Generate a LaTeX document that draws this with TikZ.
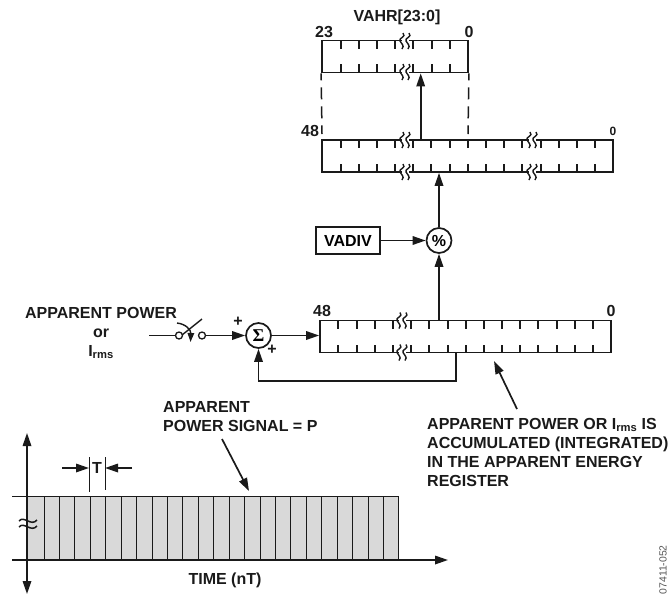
\documentclass[tikz,border=0pt]{standalone}
\usepackage{amsmath}
\usepackage{fontspec}
\setmainfont{Liberation Sans}
\newfontfamily\sigfont{Liberation Serif}
\usetikzlibrary{arrows.meta,calc,positioning}
\definecolor{Ink}{HTML}{1A1A1A}
\definecolor{BarFill}{HTML}{D9D9D9}
\definecolor{TagGrey}{HTML}{555555}
\tikzset{regbox/.style={draw=Ink,line width=1.7pt,inner sep=0pt,minimum height=32pt},opbox/.style={draw=Ink,line width=1.7pt,inner sep=0pt,font=\lbl\bfseries},opcirc/.style={circle,draw=Ink,line width=1.7pt,minimum size=25pt,inner sep=0pt,font=\lbl\bfseries},contact/.style={circle,draw=Ink,line width=1.3pt,minimum size=7pt,inner sep=0pt},flow/.style={-{Triangle[length=13pt,width=8.5pt]},line width=1.7pt,draw=Ink},tickline/.style={draw=Ink,line width=1.4pt},lbl/.style={font=\lbl\bfseries,inner sep=0pt,text=Ink},lblleft/.style={lbl,align=left,anchor=west},lblmid/.style={lbl,align=center}}
\newcommand{\lbl}{\fontsize{16}{19}\selectfont}
\newcommand{\regbreak}[2]{\fill[white] (#1-3,#2-2.5) rectangle (#1+4,#2+2.5);
  \foreach \dx in {-3,3}{\draw[tickline] (#1+\dx+1,#2-8) .. controls (#1+\dx+5,#2-4) and (#1+\dx-4,#2-3) .. (#1+\dx-2,#2) .. controls (#1+\dx-1,#2+3) and (#1+\dx+3,#2+4) .. (#1+\dx,#2+8);}}
\newcommand{\regticks}[3]{\foreach \x in {#1}{\draw[tickline] (\x,#2)--+(0,8);\draw[tickline] (\x,#3)--+(0,-8);}}
\begin{document}
\begin{tikzpicture}[x=1pt,y=-1pt]
  \useasboundingbox (0,0) rectangle (668,595);
  \node[regbox,minimum width=146pt](vahr) at (395,56.5){};
  \node[regbox,minimum width=291pt](midreg) at (467.5,156){};
  \node[regbox,minimum width=291pt](accreg) at (465.5,336.5){};
  \node[opbox,minimum width=64pt,minimum height=27pt](vadiv) at (348,240.5){VADIV};
  \node[opcirc](divop) at (439,240.5){\%};
  \node[opcirc](sumop) at (258.5,335.5){\sigfont\fontsize{18}{18}\selectfont\bfseries Σ};
  \node[contact](swa) at (179,335.5){};
  \node[contact](swb) at (202,335.5){};
  \coordinate (inp) at (149,335.5);
  \coordinate (fbk) at (456,381);
  \coordinate (midup) at (420.7,140.5);
  \coordinate (noteend) at (517,409);
  \coordinate (notetip) at (494,361);
  \coordinate (sigend) at (222,439);
  \coordinate (sigtip) at (249,491);
  \coordinate (dashl) at (322,134);
  \coordinate (dashr) at (468,134);
  \regticks{341,359,377,395,413,432,450}{41}{72}
  \regticks{341,359,377,395,413,431,450,468,486,504,522,541,559,577,595}{140}{172}
  \regticks{338,357,375,393,411,429,448,466,484,502,520,538,557,575,593}{320.5}{352.5}
  \regbreak{405}{41}\regbreak{405}{72}
  \regbreak{405}{140}\regbreak{405}{172}
  \regbreak{532}{140}\regbreak{532}{172}
  \regbreak{402}{320.5}\regbreak{402}{352.5}
  \draw[flow](midup)--(midup|-vahr.south);
  \draw[flow](divop)--(divop|-midreg.south);
  \draw[flow](divop|-accreg.north)--(divop);
  \draw[flow](vadiv)--(divop);
  \draw[flow](sumop)--(sumop-|accreg.west);
  \draw[flow](swb)--(sumop);
  \draw[line width=1.7pt,draw=Ink](inp)--(swa);
  \draw[flow](fbk|-accreg.south)--(fbk)-|(sumop);
  \draw[line width=1.5pt,draw=Ink,dash pattern=on 7pt off 7pt on 12pt off 7pt on 12pt off 7pt on 12pt off 7pt](vahr.south west)--(dashl);
  \draw[line width=1.5pt,draw=Ink,dash pattern=on 7pt off 7pt on 12pt off 7pt on 12pt off 7pt on 12pt off 7pt](vahr.south east)--(dashr);
  \draw[line width=1.4pt,draw=Ink](182,335)--(202,319);
  \draw[-{Triangle[length=9pt,width=6.5pt]},line width=1.4pt,draw=Ink](177,323) .. controls (186,324) and (191,330) .. (190.5,342);
  \node[lblmid](vahrtxt) at (397,17){VAHR[23:0]};
  \node[lblmid](vahrhi) at (324,32){23};
  \node[lblmid](vahrlo) at (469,32){0};
  \node[lblmid](midhi) at (310,131){48};
  \node[lblmid,font=\fontsize{12}{13}\selectfont\bfseries](midlo) at (613,131){0};
  \node[lblmid](acchi) at (322,311){48};
  \node[lblmid](acclo) at (611,311){0};
  \node[lblmid](plusa) at (238,322){+};
  \node[lblmid](plusb) at (272,350){+};
  \node[lblmid](inptxt) at (101,333){APPARENT POWER\\or\\I\textsubscript{rms}};
  \node[lblleft](notetxt) at (427,452){APPARENT POWER OR I\textsubscript{rms} IS\\ACCUMULATED (INTEGRATED)\\IN THE APPARENT ENERGY\\REGISTER};
  \draw[flow](noteend)--(notetip);
  \fill[BarFill](27,496) rectangle (399,560);
  \foreach \i in {0,...,23}{\draw[draw=Ink,line width=1pt] ({int(44+15.43*\i)+.5},496)--({int(44+15.43*\i)+.5},560);}
  \draw[draw=Ink,line width=1pt](12,496.5)--(399,496.5);
  \node[lblmid,anchor=west,align=left](sigtxt) at (163,416.5){APPARENT\\POWER SIGNAL = P};
  \draw[flow](sigend)--(sigtip);
  \coordinate (axtop) at (27,433);
  \coordinate (axbot) at (27,594);
  \coordinate (axrgt) at (448,560);
  \coordinate (axlft) at (12,560);
  \draw[flow,{Triangle[length=13pt,width=8.5pt]}-{Triangle[length=13pt,width=8.5pt]}](axtop)--(axbot);
  \draw[flow](axlft)--(axrgt);
  \foreach \dy in {-3,3}{\draw[line width=1.5pt,draw=Ink] (19,524+\dy) .. controls (24,518+\dy) and (31,530+\dy) .. (37,523+\dy);}
  \coordinate (tl) at (89,457);
  \coordinate (tr) at (105,457);
  \draw[draw=Ink,line width=1pt](tl)--+(0,35);
  \draw[draw=Ink,line width=1pt](tr)--+(0,33);
  \coordinate (tla) at (62,468);
  \coordinate (tra) at (132,468);
  \draw[flow](tla)--(tla-|tl);
  \draw[flow](tra)--(tra-|tr);
  \node[lblmid](ttxt) at (97,468){T};
  \node[lblmid](timetxt) at (225,580){TIME (nT)};
  \node[font=\fontsize{10.4}{11}\selectfont,text=TagGrey,rotate=90,anchor=west,inner sep=0pt](tagtxt) at (663,594.5){07411-052};
\end{tikzpicture}
\end{document}
